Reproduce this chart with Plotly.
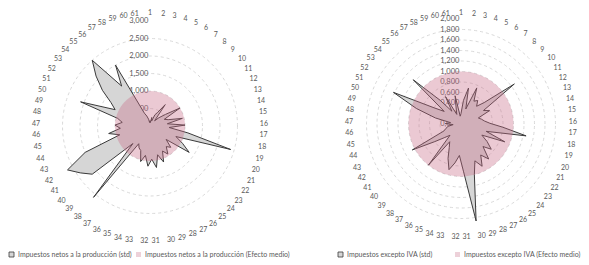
import plotly.graph_objects as go

categorias = [str(i) for i in range(1, 62)]

# Left chart: Impuestos netos a la producción
std_izq = [0.15, 0.10, 0.25, 0.15, 0.35, 0.45, 0.75, 0.20, 0.35, 0.55,
           1.00, 0.45, 0.55, 0.95, 0.50, 1.00, 0.55, 1.10, 2.40, 0.80,
           1.05, 1.35, 0.60, 0.85, 0.75, 0.95, 0.80, 1.10, 0.85, 1.20,
           0.95, 1.15, 0.85, 1.05, 0.75, 0.70, 0.60, 2.60, 0.70, 2.15,
           2.40, 2.67, 2.00, 0.90, 1.20, 0.85, 1.00, 0.80, 0.95, 2.10,
           1.10, 1.30, 1.70, 2.10, 2.50, 1.40, 2.00, 0.40, 0.30, 0.20,
           0.10]
medio_izq = [1.0, 1.0, 1.0, 1.0, 1.0, 1.0, 1.0, 1.0, 1.0, 1.0,
             1.0, 1.0, 1.0, 1.0, 1.0, 1.0, 1.0, 1.0, 1.0, 1.0,
             1.0, 1.0, 1.0, 1.0, 1.0, 1.0, 1.0, 1.0, 1.0, 1.0,
             1.0, 1.0, 1.0, 1.0, 1.0, 1.0, 1.0, 1.0, 1.0, 1.0,
             1.0, 1.0, 1.0, 1.0, 1.0, 1.0, 1.0, 1.0, 1.0, 1.0,
             1.0, 1.0, 1.0, 1.0, 1.0, 1.0, 1.0, 1.0, 1.0, 1.0,
             1.0]

# Right chart: Impuestos excepto IVA
std_der = [0.20, 0.45, 0.70, 0.30, 0.75, 0.50, 0.55, 0.45, 0.60, 1.27,
           0.50, 0.60, 0.35, 0.40, 0.45, 0.55, 0.80, 1.26, 0.50, 0.90,
           0.45, 0.60, 0.75, 0.60, 0.85, 0.70, 0.90, 0.75, 1.00, 1.87,
           0.90, 0.60, 0.75, 0.90, 0.70, 0.50, 0.40, 1.00, 0.30, 0.40,
           0.60, 1.05, 0.35, 0.30, 0.25, 0.15, 0.30, 0.20, 0.50, 0.90,
           1.42, 0.60, 0.40, 1.24, 0.60, 0.30, 0.60, 0.20, 0.30, 0.55,
           0.15]
medio_der = [1.0, 1.0, 1.0, 1.0, 1.0, 1.0, 1.0, 1.0, 1.0, 1.0,
             1.0, 1.0, 1.0, 1.0, 1.0, 1.0, 1.0, 1.0, 1.0, 1.0,
             1.0, 1.0, 1.0, 1.0, 1.0, 1.0, 1.0, 1.0, 1.0, 1.0,
             1.0, 1.0, 1.0, 1.0, 1.0, 1.0, 1.0, 1.0, 1.0, 1.0,
             1.0, 1.0, 1.0, 1.0, 1.0, 1.0, 1.0, 1.0, 1.0, 1.0,
             1.0, 1.0, 1.0, 1.0, 1.0, 1.0, 1.0, 1.0, 1.0, 1.0,
             1.0]

nombres_izq = ["Impuestos netos a la producción (std)",
               "Impuestos netos a la producción (Efecto medio)"]
nombres_der = ["Impuestos excepto IVA (std)",
               "Impuestos excepto IVA (Efecto medio)"]


def cerrar(v):
    return list(v) + list(v[:1])


theta = cerrar(categorias)
GREY_FILL = "#d6d6d6"
LINE = "#3a3a3a"
PINK = "rgba(200,105,132,0.36)"
PINK_SW = "#edd1d9"
TXT = "#595959"
FONT = "Lato"
W, H = 589, 265
OFF = 8  # page body margin: figure starts 8px right/down in the page

fig = go.Figure()
for (std, medio, names, sp) in [
    (std_izq, medio_izq, nombres_izq, "polar"),
    (std_der, medio_der, nombres_der, "polar2"),
]:
    fig.add_trace(go.Scatterpolar(
        r=cerrar(std), theta=theta, subplot=sp, showlegend=False,
        mode="lines", fill="toself", fillcolor=GREY_FILL,
        line=dict(color=LINE, width=1), name=names[0]))
    fig.add_trace(go.Scatterpolar(
        r=cerrar(medio), theta=theta, subplot=sp, showlegend=False,
        mode="lines", fill="toself", fillcolor=PINK,
        line=dict(color="rgba(0,0,0,0)", width=0), name=names[1]))


def dominio(cx, cy, rad):
    # cx, cy: centre in page pixels; rad: radius in pixels
    fx, fy = cx - OFF, cy - OFF
    return dict(x=[(fx - rad) / W, (fx + rad) / W],
                y=[(H - fy - rad) / H, (H - fy + rad) / H])


def polar_cfg(dom, rmax, dt, tl):
    return dict(
        domain=dom,
        bgcolor="white",
        angularaxis=dict(type="category", categoryarray=categorias,
                         rotation=90, direction="clockwise",
                         showline=False, showgrid=False,
                         ticks="outside", ticklen=tl, tickcolor="rgba(0,0,0,0)",
                         tickfont=dict(size=7, color=TXT, family=FONT)),
        radialaxis=dict(range=[0, rmax], dtick=dt, tickformat=".3f",
                        angle=90, tickangle=90, side="counterclockwise",
                        showline=False, ticks="", gridcolor="#d9d9d9",
                        griddash="dot", layer="below traces",
                        tickfont=dict(size=7.5, color=TXT, family=FONT)),
    )


def px(x):
    return (x - OFF) / W


def py(y):
    return (H - (y - OFF)) / H


leyenda = [
    (9, GREY_FILL, LINE, nombres_izq[0]),
    (136, PINK_SW, None, nombres_izq[1]),
    (338, GREY_FILL, LINE, nombres_der[0]),
    (455, PINK_SW, None, nombres_der[1]),
]
shapes, annots = [], []
yc = 254.5
for x0, fc, lc, txt in leyenda:
    shapes.append(dict(type="rect", xref="paper", yref="paper",
                       x0=px(x0), x1=px(x0 + 5), y0=py(yc + 2.5), y1=py(yc - 2.5),
                       fillcolor=fc,
                       line=dict(color=lc if lc else fc, width=0.8 if lc else 0)))
    annots.append(dict(xref="paper", yref="paper", x=px(x0 + 7), y=py(yc),
                       xanchor="left", yanchor="middle", showarrow=False,
                       text=txt, font=dict(size=7, color=TXT, family=FONT)))

fig.update_layout(
    width=W, height=H, margin=dict(l=0, r=0, t=0, b=0),
    paper_bgcolor="white", separators=",.", showlegend=False,
    polar=polar_cfg(dominio(150, 126, 105), 3, 0.5, 3),
    polar2=polar_cfg(dominio(461, 124, 105), 2, 0.2, 1),
    shapes=shapes, annotations=annots,
)

fig.write_html("out.html")
